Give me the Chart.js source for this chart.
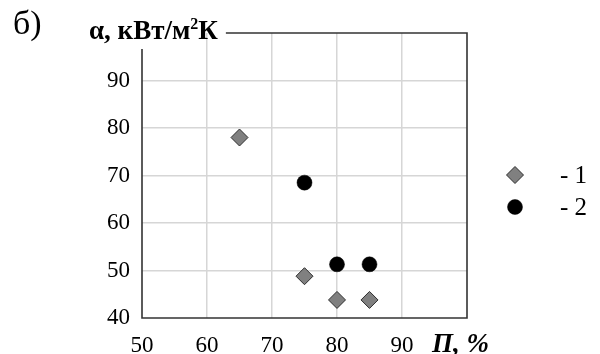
<!DOCTYPE html>
<html>
<head>
<meta charset="utf-8">
<script src="https://cdn.jsdelivr.net/npm/chart.js@4"></script>
<style>
html, body { margin: 0; background: #fff; }
</style>
</head>
<body>
<canvas id="myChart" width="600" height="354"></canvas>
<script>
const seriesNames = ['- 1', '- 2'];
const porosity1 = [65, 75, 80, 85];
const alpha1 = [78, 48.8, 43.8, 43.8];
const porosity2 = [75, 80, 85];
const alpha2 = [68.5, 51.3, 51.3];
const xRange = [50, 100];
const yRange = [40, 100];
const tickStep = 10;

const serif = '"Liberation Serif", "Times New Roman", serif';

function toPoints(xs, ys) {
    return xs.map((x, i) => ({ x: x, y: ys[i] }));
}

// hide grid lines on the frame edges
function gridColor(ctx) {
    const v = ctx.tick ? ctx.tick.value : null;
    const s = ctx.scale;
    if (v === s.min || v === s.max) return 'rgba(0,0,0,0)';
    return '#d6d6d6';
}

const framePlugin = {
    id: 'frame',
    afterDraw(chart) {
        const ctx = chart.ctx;
        const a = chart.chartArea;
        ctx.save();

        // "б)"
        ctx.fillStyle = '#000';
        ctx.textBaseline = 'alphabetic';
        ctx.font = '34px ' + serif;
        ctx.fillText('б)', 13, 34);

        // y axis title with superscript
        ctx.font = 'bold 27px ' + serif;
        let x = 89;
        const base = 39;
        ctx.fillText('α, кВт/м', x, base);
        x += ctx.measureText('α, кВт/м').width;
        ctx.font = 'bold 16px ' + serif;
        ctx.fillText('2', x, base - 10);
        x += ctx.measureText('2').width;
        ctx.font = 'bold 27px ' + serif;
        ctx.fillText('К', x, base);
        x += ctx.measureText('К').width;

        // frame
        ctx.strokeStyle = '#333';
        ctx.lineWidth = 1.6;
        ctx.beginPath();
        ctx.moveTo(x + 8, a.top);
        ctx.lineTo(a.right, a.top);
        ctx.lineTo(a.right, a.bottom);
        ctx.lineTo(a.left, a.bottom);
        ctx.lineTo(a.left, base + 10);
        ctx.stroke();

        // x axis title
        ctx.font = 'bold italic 27px ' + serif;
        ctx.fillText('П, %', 432, 352);

        // legend
        chart.data.datasets.forEach((ds, i) => {
            const lx = 515, ly = 175 + i * 32;
            ctx.fillStyle = ds.backgroundColor;
            ctx.strokeStyle = ds.borderColor;
            ctx.lineWidth = ds.borderWidth;
            const r = ds.pointRadius;
            ctx.beginPath();
            if (ds.pointStyle === 'rectRot') {
                ctx.moveTo(lx, ly - r);
                ctx.lineTo(lx + r, ly);
                ctx.lineTo(lx, ly + r);
                ctx.lineTo(lx - r, ly);
                ctx.closePath();
            } else {
                ctx.arc(lx, ly, r, 0, Math.PI * 2);
            }
            ctx.fill();
            ctx.stroke();
            ctx.fillStyle = '#000';
            ctx.font = '25px ' + serif;
            ctx.textBaseline = 'middle';
            ctx.fillText(ds.label, 560, ly + 1);
            ctx.textBaseline = 'alphabetic';
        });

        ctx.restore();
    }
};

const ctx = document.getElementById('myChart').getContext('2d');

const myChart = new Chart(ctx, {
    type: 'scatter',
    data: {
        datasets: [
            {
                label: seriesNames[0],
                data: toPoints(porosity1, alpha1),
                pointStyle: 'rectRot',
                pointRadius: 8.5,
                backgroundColor: '#808080',
                borderColor: '#2e2e2e',
                borderWidth: 1
            },
            {
                label: seriesNames[1],
                data: toPoints(porosity2, alpha2),
                pointStyle: 'circle',
                pointRadius: 7.5,
                backgroundColor: '#000',
                borderColor: '#000',
                borderWidth: 0.5
            }
        ]
    },
    options: {
        responsive: false,
        animation: false,
        layout: { padding: { top: 33, right: 133, left: 0, bottom: 0 } },
        plugins: {
            legend: { display: false },
            tooltip: { enabled: false }
        },
        scales: {
            x: {
                type: 'linear',
                min: xRange[0],
                max: xRange[1],
                ticks: {
                    stepSize: tickStep,
                    color: '#000',
                    font: { family: serif, size: 23 },
                    padding: 14,
                    maxRotation: 0,
                    callback: (v) => v === xRange[1] ? '' : v
                },
                grid: { color: gridColor, lineWidth: 1.5, drawTicks: false },
                border: { display: false },
                afterFit(scale) { scale.height = 36; }
            },
            y: {
                type: 'linear',
                min: yRange[0],
                max: yRange[1],
                ticks: {
                    stepSize: tickStep,
                    color: '#000',
                    font: { family: serif, size: 23 },
                    padding: 12,
                    callback: (v) => v === yRange[1] ? '' : v
                },
                grid: { color: gridColor, lineWidth: 1.5, drawTicks: false },
                border: { display: false },
                afterFit(scale) { scale.width = 142; }
            }
        }
    },
    plugins: [framePlugin]
});
</script>
</body>
</html>
